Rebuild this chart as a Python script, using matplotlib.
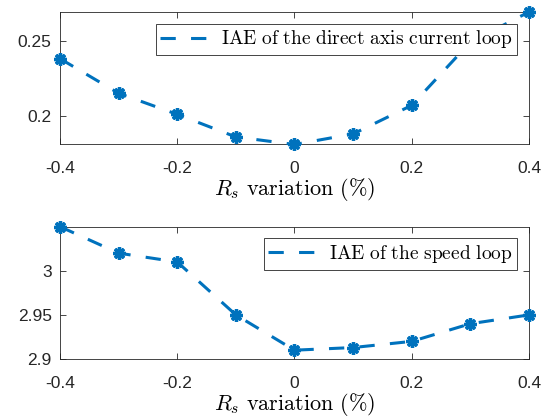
import matplotlib
matplotlib.use('Agg')
import matplotlib.pyplot as plt

plt.rcParams['font.family'] = 'Liberation Sans'
plt.rcParams['mathtext.fontset'] = 'cm'

rs_variation = [-0.4, -0.3, -0.2, -0.1, 0.0, 0.1, 0.2, 0.3, 0.4]
iae_current = [0.238, 0.215, 0.201, 0.186, 0.181, 0.188, 0.207, 0.249, 0.269]
iae_speed = [3.05, 3.02, 3.01, 2.95, 2.91, 2.913, 2.92, 2.94, 2.95]

x_ticks = [-0.4, -0.2, 0, 0.2, 0.4]
x_ticklabels = ['-0.4', '-0.2', '0', '0.2', '0.4']
current_yticks = [0.2, 0.25]
current_yticklabels = ['0.2', '0.25']
speed_yticks = [2.9, 2.95, 3.0]
speed_yticklabels = ['2.9', '2.95', '3']

LINE_COLOR = '#0072BD'
AX_COLOR = '#262626'

fig = plt.figure(figsize=(5.52, 4.2), dpi=100)
ax1 = fig.add_axes([0.1087, 0.656, 0.8496, 0.3155])
ax2 = fig.add_axes([0.1087, 0.1452, 0.8496, 0.3151])


def draw_panel(ax, yvals, yticks, yticklabels, ylim, legend_label):
    # dashed line (legend entry) and asterisk markers drawn separately
    ax.plot(rs_variation, yvals, linestyle='--', color=LINE_COLOR, linewidth=2.2,
            dashes=(5, 5), label=legend_label, clip_on=False, zorder=3)
    ax.plot(rs_variation, yvals, linestyle='none', color=LINE_COLOR,
            marker=(8, 2, 0), markersize=9, markeredgewidth=2.4,
            clip_on=False, zorder=4)
    ax.set_xlim(-0.4, 0.4)
    ax.set_ylim(*ylim)
    ax.set_xticks(x_ticks)
    ax.set_xticklabels(x_ticklabels)
    ax.set_yticks(yticks)
    ax.set_yticklabels(yticklabels)
    ax.tick_params(axis='both', direction='in', top=True, right=True, labelsize=12.5,
                   color=AX_COLOR, labelcolor=AX_COLOR, length=4, width=0.6)
    ax.tick_params(axis='x', pad=12)
    ax.tick_params(axis='y', pad=6)
    for s in ax.spines.values():
        s.set_color(AX_COLOR)
        s.set_linewidth(0.6)
    ax.set_xlabel(r'$R_s\ \mathrm{variation\ (\%)}$', fontsize=16, labelpad=0)
    leg = ax.legend(loc='upper right', fontsize=14, fancybox=False, framealpha=1,
                    edgecolor=AX_COLOR, borderpad=0.25, handlelength=2.5,
                    handletextpad=0.6, borderaxespad=0.6)
    leg.get_frame().set_linewidth(0.6)
    leg.set_zorder(5)


draw_panel(ax1, iae_current, current_yticks, current_yticklabels, (0.181, 0.269),
           r'$\mathrm{IAE\ of\ the\ direct\ axis\ current\ loop}$')
draw_panel(ax2, iae_speed, speed_yticks, speed_yticklabels, (2.9, 3.05),
           r'$\mathrm{IAE\ of\ the\ speed\ loop}$')

fig.savefig('out.png', dpi=100)
